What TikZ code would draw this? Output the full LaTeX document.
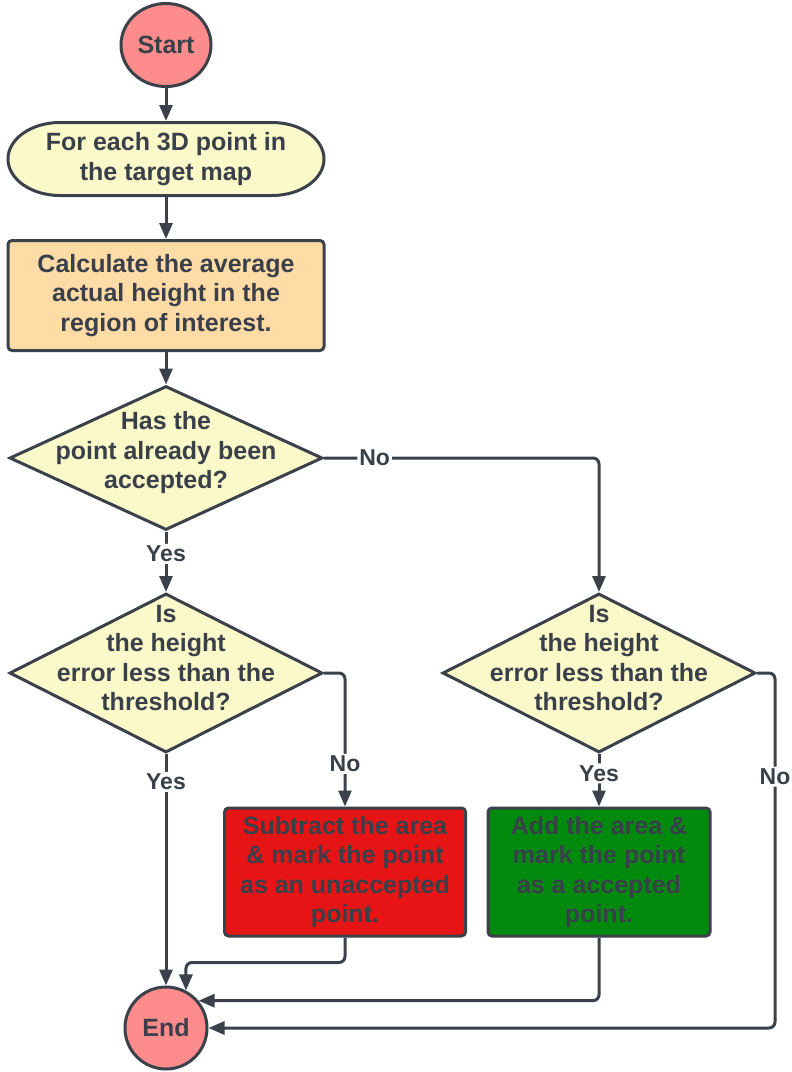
\documentclass[tikz,border=0pt]{standalone}
\usepackage{fontspec}
\setmainfont{Liberation Sans}
\usetikzlibrary{shapes.geometric,arrows.meta,backgrounds,calc}
\definecolor{ln}{HTML}{3A414A}
\definecolor{txt}{HTML}{39404A}
\definecolor{pinkfill}{HTML}{FF8C8C}
\definecolor{yelfill}{HTML}{FBF9C9}
\definecolor{orfill}{HTML}{FFDBA5}
\definecolor{redfill}{HTML}{E61414}
\definecolor{grnfill}{HTML}{028A0F}
\begin{document}
\begin{tikzpicture}[x=1pt,y=1pt,
  basefont/.style={font=\bfseries\fontsize{25}{29.5}\selectfont, text=txt, align=center},
  base/.style={basefont, draw=ln, line width=3pt, inner sep=0pt, outer sep=1.5pt},
  term/.style={base, ellipse, fill=pinkfill},
  proc/.style={base, rectangle, rounded corners=4pt},
  dec/.style={base, diamond, fill=yelfill},
  dtext/.style={basefont, inner sep=0pt},
  arr/.style={draw=ln, line width=3pt, rounded corners=6pt, -{Triangle[length=16pt,width=13pt]}},
  lbl/.style={fill=white, text=txt, font=\bfseries\fontsize{23}{26}\selectfont, inner sep=2pt}
]
\useasboundingbox (0,0) rectangle (792,-1072);

% nodes
\node[term, minimum width=90, minimum height=83] (start) at (166,-45) {Start};
\node[basefont, inner sep=0pt, outer sep=1.5pt, minimum width=316, minimum height=73] (loop) at (166,-159) {For each 3D point in\\the target map};
\begin{scope}[on background layer]
  \draw[ln, line width=3pt, fill=yelfill]
    ($(loop.center)+(-106,36.5)$) -- ++(212,0)
    arc[start angle=90, end angle=-90, x radius=52, y radius=36.5]
    -- ++(-212,0)
    arc[start angle=270, end angle=90, x radius=52, y radius=36.5] -- cycle;
\end{scope}
\node[proc, fill=orfill, minimum width=316, minimum height=110] (calc) at (166,-295.5) {Calculate the average\\actual height in the\\region of interest.};

\node[dec, minimum width=313, minimum height=144] (d1) at (166,-458) {};
\node[dtext] (d1t) at ($(d1.center)+(0,5)$) {Has the\\point already been\\accepted?};

\node[dec, minimum width=313, minimum height=159] (d2) at (166,-673) {};
\node[dtext] (d2t) at ($(d2.center)+(0,15)$) {Is\\the height\\error less than the\\threshold?};

\node[dec, minimum width=313, minimum height=159] (d3) at (599,-673) {};
\node[dtext] (d3t) at ($(d3.center)+(0,15)$) {Is\\the height\\error less than the\\threshold?};

\node[proc, fill=redfill, minimum width=241, minimum height=128] (red) at (345,-872) {Subtract the area\\\& mark the point\\as an unaccepted\\point.};
\node[proc, fill=grnfill, minimum width=222, minimum height=128] (grn) at (599,-872) {Add the area \&\\mark the point\\as a accepted\\point.};

\node[term, minimum width=82, minimum height=82] (end) at (166,-1028) {End};

\coordinate (rc) at (775,-673);

% connectors
\draw[arr] (start.south) -- (loop.north);
\draw[arr] (loop.south) -- (calc.north);
\draw[arr] (calc.south) -- (d1.north);
\draw[arr] (d1.south) -- node[lbl, pos=0.37] {Yes} (d2.north);
\draw[arr] (d1.east) -| node[lbl, pos=0.092] {No} (d3.north);
\draw[arr] (d2.east) -| node[lbl, pos=0.84] {No} (red.north);
\draw[arr] (d2.south) -- node[lbl, pos=0.12] {Yes} (end.north);
\draw[arr] (d3.south) -- node[lbl, pos=0.37] {Yes} (grn.north);
\draw[arr] (d3.east) -- (rc) |- node[lbl, pos=0.146] {No} (end.east);
\draw[arr] (red.south) -- ++(0,-25) -| (end.62);
\draw[arr] (grn.south) |- (end.40);
\end{tikzpicture}
\end{document}
